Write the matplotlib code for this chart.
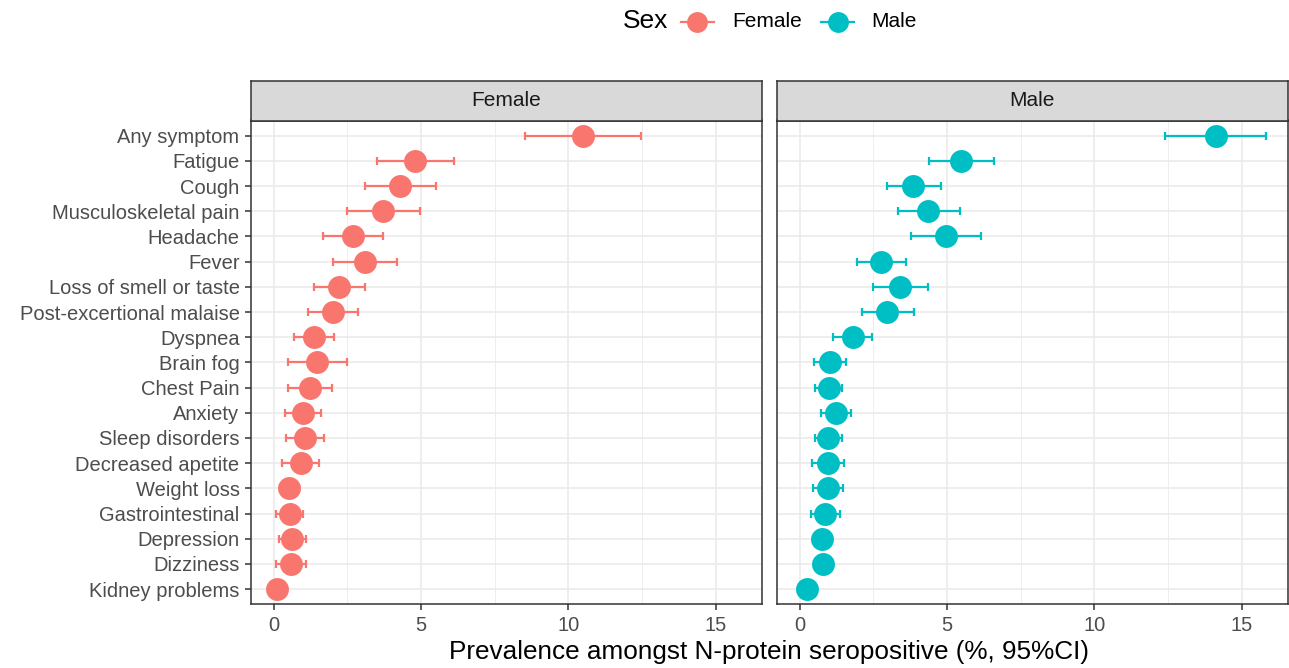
import matplotlib
matplotlib.use("Agg")
import matplotlib.pyplot as plt
import numpy as np

plt.rcParams['font.family'] = ['Liberation Sans', 'DejaVu Sans']

symptoms = [
    "Any symptom", "Fatigue", "Cough", "Musculoskeletal pain", "Headache",
    "Fever", "Loss of smell or taste", "Post-excertional malaise", "Dyspnea",
    "Brain fog", "Chest Pain", "Anxiety", "Sleep disorders", "Decreased apetite",
    "Weight loss", "Gastrointestinal", "Depression", "Dizziness", "Kidney problems",
]

female_est = [10.50, 4.81, 4.28, 3.70, 2.70, 3.10, 2.22, 2.01, 1.37, 1.48,
              1.23, 0.98, 1.07, 0.91, 0.52, 0.54, 0.63, 0.58, 0.10]
female_lo = [8.53, 3.51, 3.09, 2.48, 1.68, 2.01, 1.37, 1.17, 0.70, 0.48,
             0.48, 0.37, 0.42, 0.29, 0.22, 0.09, 0.18, 0.07, 0.00]
female_hi = [12.45, 6.12, 5.49, 4.95, 3.72, 4.19, 3.08, 2.85, 2.03, 2.50,
             1.96, 1.60, 1.70, 1.53, 0.84, 1.00, 1.09, 1.10, 0.37]

male_est = [14.12, 5.49, 3.86, 4.37, 4.96, 2.77, 3.42, 2.98, 1.80, 1.02,
            0.99, 1.22, 0.97, 0.95, 0.96, 0.87, 0.75, 0.78, 0.26]
male_lo = [12.41, 4.38, 2.95, 3.35, 3.77, 1.94, 2.50, 2.11, 1.14, 0.49,
           0.53, 0.71, 0.53, 0.41, 0.46, 0.38, 0.45, 0.48, 0.02]
male_hi = [15.83, 6.60, 4.81, 5.45, 6.14, 3.62, 4.36, 3.88, 2.46, 1.57,
           1.45, 1.74, 1.43, 1.51, 1.47, 1.37, 1.05, 1.08, 0.52]

panels = ["Female", "Male"]
colors = {"Female": "#F8766D", "Male": "#00BFC4"}
x_ticks = [0, 5, 10, 15]

W, H = 1289, 668
fig = plt.figure(figsize=(W / 100, H / 100), dpi=100)
fig.patch.set_facecolor("white")

def fx(px):
    return px / W

def fy(py):
    return 1 - py / H

panel_left = [250.8, 776.7]
panel_w = 510.8
panel_top, panel_bottom = 120.5, 604.3
strip_top = 80.7

data = {
    "Female": (female_est, female_lo, female_hi),
    "Male": (male_est, male_lo, male_hi),
}

y = np.arange(len(symptoms))
dark = "#333333"
grid_c = "#EBEBEB"
tick_fs = 14.5

for i, name in enumerate(panels):
    left = panel_left[i]
    ax = fig.add_axes([fx(left), fy(panel_bottom), panel_w / W,
                       (panel_bottom - panel_top) / H])
    est, lo, hi = data[name]
    est = np.array(est); lo = np.array(lo); hi = np.array(hi)
    ax.set_xlim(-0.78, 16.56)
    ax.set_ylim(len(symptoms) - 1 + 0.6, -0.6)
    # grid lines
    for xv in [2.5, 7.5, 12.5]:
        ax.axvline(xv, color=grid_c, lw=0.6, zorder=0)
    for xv in x_ticks:
        ax.axvline(xv, color=grid_c, lw=1.2, zorder=0)
    for yv in y:
        ax.axhline(yv, color=grid_c, lw=1.2, zorder=0)
    ax.errorbar(est, y, xerr=[est - lo, hi - est], fmt="none",
                ecolor=colors[name], elinewidth=1.6, capsize=2.6,
                capthick=1.6, zorder=2)
    ax.plot(est, y, "o", color=colors[name], markersize=16.5,
            markeredgewidth=0, zorder=3)
    ax.set_xticks(x_ticks)
    ax.set_xticklabels([str(t) for t in x_ticks])
    ax.tick_params(axis="x", length=4.6, width=1.1, color=dark,
                   labelsize=tick_fs, labelcolor="#4D4D4D", pad=4.0)
    if i == 0:
        ax.set_yticks(y)
        ax.set_yticklabels(symptoms)
        ax.tick_params(axis="y", length=4.6, width=1.1, color=dark,
                       labelsize=tick_fs, labelcolor="#4D4D4D", pad=3.5)
    else:
        ax.set_yticks([])
    for s in ax.spines.values():
        s.set_color(dark)
        s.set_linewidth(1.1)
    ax.set_facecolor("white")

    # facet strip
    sax = fig.add_axes([fx(left), fy(panel_top), panel_w / W,
                        (panel_top - strip_top) / H])
    sax.set_facecolor("#D9D9D9")
    sax.set_xticks([]); sax.set_yticks([])
    for s in sax.spines.values():
        s.set_color(dark)
        s.set_linewidth(1.1)
    sax.text(0.5, 0.5, name, ha="center", va="center", fontsize=15,
             color="#1A1A1A", transform=sax.transAxes)

fig.text(fx(769), fy(651.5), "Prevalence amongst N-protein seropositive (%, 95%CI)",
         ha="center", va="center", fontsize=18.8, color="black")

# legend drawn in pixel coordinates on an overlay axes
lax = fig.add_axes([0, 0, 1, 1], facecolor="none")
lax.set_xlim(0, W); lax.set_ylim(H, 0); lax.axis("off")
ly = 21.5
lax.text(622.5, ly, "Sex", ha="left", va="center", fontsize=19)
key_pos = {"Female": 697.0, "Male": 837.5}
label_pos = {"Female": 732.5, "Male": 871.0}
for n in panels:
    cx = key_pos[n]
    lax.plot([cx - 16.5, cx + 16.5], [ly, ly], color=colors[n], lw=1.6)
    lax.plot([cx], [ly], "o", color=colors[n], markersize=15,
             markeredgewidth=0)
    lax.text(label_pos[n], ly, n, ha="left", va="center", fontsize=15)

fig.savefig("out.png", dpi=100, facecolor="white")
